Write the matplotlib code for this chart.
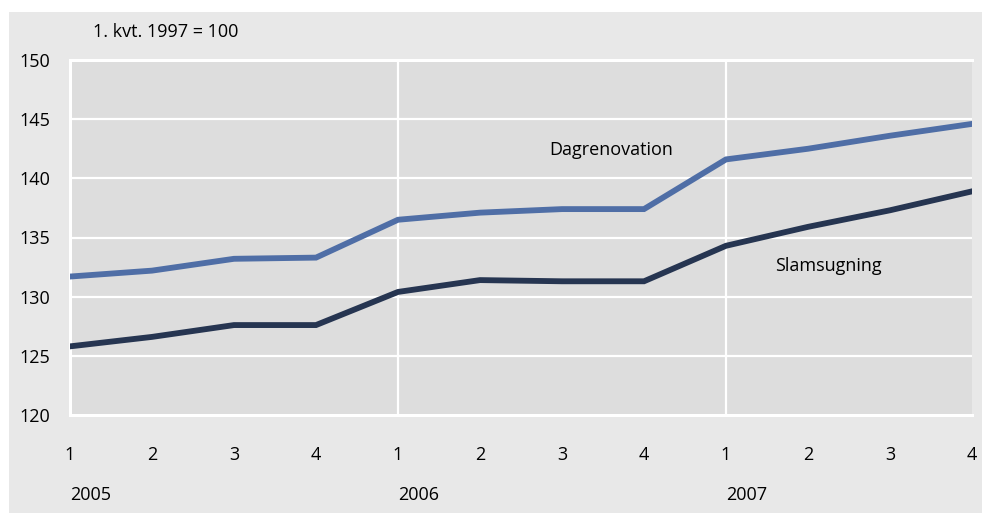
import matplotlib.pyplot as plt
from matplotlib.patches import Rectangle

plt.rcParams['font.family'] = ['Liberation Sans Narrow', 'Open Sans', 'DejaVu Sans']

quarters = ['1', '2', '3', '4'] * 3
years = ['2005', '2006', '2007']
dagrenovation = [131.7, 132.2, 133.2, 133.3, 136.5, 137.1, 137.4, 137.4, 141.6, 142.5, 143.6, 144.6]
slamsugning = [125.8, 126.6, 127.6, 127.6, 130.4, 131.4, 131.3, 131.3, 134.3, 135.9, 137.3, 138.9]

W, H = 982, 513
fig = plt.figure(figsize=(W / 100, H / 100), dpi=100)
fig.patch.set_facecolor('white')
# grey panel with a thin white margin on the top and left
fig.patches.append(Rectangle((9 / W, 0), 1, 1 - 12 / H, transform=fig.transFigure,
                             facecolor='#e8e8e8', edgecolor='none', zorder=-10))

ax = fig.add_axes([70 / W, 1 - 415 / H, (972 - 70) / W, (415 - 60) / H])
ax.set_facecolor('#dddddd')

x = list(range(len(quarters)))
ax.plot(x, dagrenovation, color='#4f6ea6', lw=4.2, solid_joinstyle='miter', zorder=3)
ax.plot(x, slamsugning, color='#263551', lw=4.2, solid_joinstyle='miter', zorder=3)

ax.set_xlim(0, 11)
ax.set_ylim(120, 150)
ax.set_yticks(range(120, 151, 5))
ax.set_xticks(x)
ax.set_xticklabels(quarters)
ax.tick_params(length=0, labelsize=13, colors='black')
ax.tick_params(axis='x', pad=22)
ax.tick_params(axis='y', pad=14)

for v in range(125, 150, 5):
    ax.axhline(v, color='white', lw=1.6, zorder=1)
for xv in (4, 8):
    ax.axvline(xv, color='white', lw=1.6, zorder=1)

for s in ('left', 'top', 'bottom'):
    ax.spines[s].set_color('white')
    ax.spines[s].set_linewidth(2.2)
ax.spines['right'].set_visible(False)

for i, yr in enumerate(years):
    ax.text(i * 4, -0.225, yr, transform=ax.get_xaxis_transform(),
            ha='left', va='center', fontsize=13)

ax.text(0.025, 1.08, '1. kvt. 1997 = 100', transform=ax.transAxes,
        ha='left', va='center', fontsize=13)
ax.text(6.6, 142.4, 'Dagrenovation', ha='center', va='center', fontsize=13)
ax.text(9.25, 132.6, 'Slamsugning', ha='center', va='center', fontsize=13)

fig.savefig('out.png', dpi=100)
